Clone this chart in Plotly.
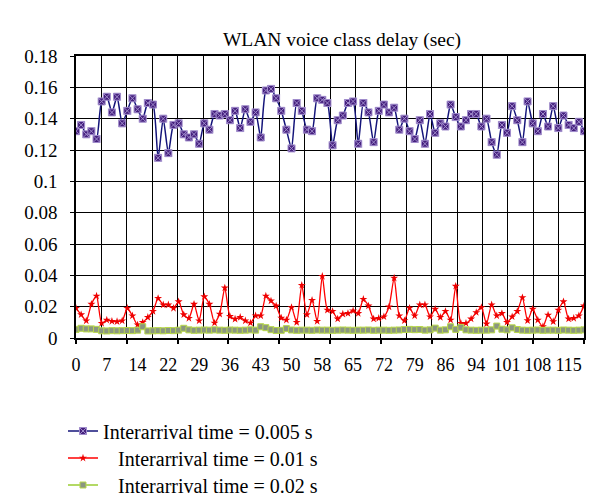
import plotly.graph_objects as go

# ---------------- data ----------------
n_points = 100
category_index = list(range(n_points))

# x tick labels shown every 6th category (category value = index * 1.2, rounded)
label_index = [0, 6, 12, 18, 24, 30, 36, 42, 48, 54, 60, 66, 72, 78, 84, 90, 96]
label_text = ["0", "7", "14", "22", "29", "36", "43", "50", "58", "65", "72",
              "79", "86", "94", "101", "108", "115"]

delay_0005 = [
    0.132, 0.136, 0.130, 0.132, 0.127, 0.151, 0.154, 0.144, 0.154, 0.137,
    0.145, 0.153, 0.146, 0.140, 0.150, 0.149, 0.115, 0.140, 0.118, 0.136,
    0.137, 0.130, 0.128, 0.130, 0.124, 0.137, 0.133, 0.143, 0.142, 0.143,
    0.139, 0.145, 0.134, 0.146, 0.138, 0.144, 0.128, 0.158, 0.159, 0.153,
    0.145, 0.133, 0.121, 0.150, 0.145, 0.133, 0.132, 0.153, 0.152, 0.150,
    0.123, 0.139, 0.142, 0.150, 0.151, 0.124, 0.150, 0.144, 0.125, 0.145,
    0.149, 0.144, 0.147, 0.133, 0.140, 0.132, 0.127, 0.139, 0.124, 0.143,
    0.131, 0.137, 0.135, 0.149, 0.141, 0.135, 0.139, 0.143, 0.143, 0.135,
    0.140, 0.125, 0.117, 0.136, 0.131, 0.148, 0.139, 0.125, 0.151, 0.137,
    0.132, 0.143, 0.135, 0.148, 0.134, 0.142, 0.136, 0.134, 0.138, 0.132,
]

delay_001 = [
    0.0190, 0.0149, 0.0110, 0.0216, 0.0268, 0.0094, 0.0115, 0.0107, 0.0105, 0.0110,
    0.0190, 0.0142, 0.0084, 0.0100, 0.0132, 0.0170, 0.0253, 0.0212, 0.0212, 0.0190,
    0.0232, 0.0149, 0.0126, 0.0216, 0.0110, 0.0264, 0.0216, 0.0096, 0.0153, 0.0320,
    0.0138, 0.0121, 0.0132, 0.0110, 0.0096, 0.0142, 0.0142, 0.0268, 0.0237, 0.0205,
    0.0128, 0.0115, 0.0195, 0.0100, 0.0337, 0.0149, 0.0241, 0.0107, 0.0394, 0.0178,
    0.0170, 0.0122, 0.0153, 0.0157, 0.0174, 0.0157, 0.0247, 0.0205, 0.0122, 0.0126,
    0.0136, 0.0199, 0.0383, 0.0142, 0.0111, 0.0191, 0.0142, 0.0212, 0.0212, 0.0136,
    0.0184, 0.0132, 0.0170, 0.0115, 0.0331, 0.0094, 0.0094, 0.0122, 0.0163, 0.0195,
    0.0090, 0.0212, 0.0142, 0.0157, 0.0101, 0.0136, 0.0170, 0.0258, 0.0111, 0.0184,
    0.0115, 0.0073, 0.0147, 0.0105, 0.0178, 0.0232, 0.0122, 0.0126, 0.0142, 0.0205,
]

delay_002 = [
    0.0055, 0.0062, 0.0058, 0.0058, 0.0055, 0.0046, 0.0045, 0.0047, 0.0046, 0.0047,
    0.0048, 0.0047, 0.0050, 0.0072, 0.0045, 0.0046, 0.0047, 0.0046, 0.0048, 0.0047,
    0.0050, 0.0062, 0.0052, 0.0049, 0.0050, 0.0051, 0.0050, 0.0052, 0.0050, 0.0049,
    0.0051, 0.0050, 0.0049, 0.0050, 0.0052, 0.0050, 0.0072, 0.0066, 0.0053, 0.0048,
    0.0049, 0.0060, 0.0051, 0.0049, 0.0050, 0.0050, 0.0049, 0.0051, 0.0050, 0.0050,
    0.0049, 0.0050, 0.0051, 0.0050, 0.0049, 0.0050, 0.0050, 0.0051, 0.0049, 0.0050,
    0.0050, 0.0049, 0.0050, 0.0051, 0.0054, 0.0055, 0.0053, 0.0054, 0.0050, 0.0052,
    0.0063, 0.0050, 0.0052, 0.0072, 0.0055, 0.0068, 0.0052, 0.0050, 0.0049, 0.0050,
    0.0050, 0.0052, 0.0076, 0.0056, 0.0052, 0.0065, 0.0054, 0.0050, 0.0049, 0.0050,
    0.0051, 0.0049, 0.0050, 0.0050, 0.0049, 0.0051, 0.0050, 0.0049, 0.0050, 0.0052,
]

series_names = [
    "Interarrival time = 0.005 s",
    "\u00a0\u00a0\u00a0Interarrival time = 0.01 s",
    "\u00a0\u00a0\u00a0Interarrival time = 0.02 s",
]

# ---------------- figure ----------------
FONT = "Liberation Serif, Times New Roman, serif"
x_max = n_points - 1
grid_step = x_max / 20
tick_step = x_max / 10

PLOT_TOP, PLOT_BOTTOM = 48, 330
PLOT_H = PLOT_BOTTOM - PLOT_TOP


def paper_y(px):
    return (PLOT_BOTTOM - px) / PLOT_H


fig = go.Figure()

fig.add_trace(go.Scatter(
    x=category_index, y=delay_0005, name=series_names[0], mode="lines+markers",
    line=dict(color="#14147a", width=1.5, shape="spline", smoothing=0.6),
    marker=dict(symbol="square-x", size=7, color="#46217e",
                line=dict(color="#a08ccc", width=1)),
    legend="legend",
))
fig.add_trace(go.Scatter(
    x=category_index, y=delay_001, name=series_names[1], mode="lines+markers",
    line=dict(color="#ff0000", width=1.3, shape="spline", smoothing=0.6),
    marker=dict(symbol="star", size=6, color="#ee0000",
                line=dict(color="#ee0000", width=0)),
    legend="legend2",
))
fig.add_trace(go.Scatter(
    x=category_index, y=delay_002, name=series_names[2], mode="lines+markers",
    line=dict(color="#9acd32", width=1.5, shape="spline", smoothing=0.6),
    marker=dict(symbol="square", size=6, color="#8a9680",
                line=dict(color="#b8d84a", width=1)),
    legend="legend3",
))
# helper trace so the tick-mark axis (x2) gets drawn
fig.add_trace(go.Scatter(x=[None], y=[None], xaxis="x2", showlegend=False,
                         hoverinfo="skip"))

legend_common = dict(orientation="v", x=-0.0256, xanchor="left", yanchor="middle",
                     font=dict(family=FONT, size=20, color="black"),
                     bgcolor="rgba(0,0,0,0)", borderwidth=0)

fig.update_layout(
    width=600, height=502,
    margin=dict(l=68, r=24, t=PLOT_TOP, b=502 - PLOT_BOTTOM, autoexpand=False),
    paper_bgcolor="white", plot_bgcolor="white",
    font=dict(family=FONT, size=19, color="black"),
    title=dict(text="WLAN voice class delay (sec)", x=334 / 600, xanchor="center",
               y=1 - 31 / 502, yanchor="middle",
               font=dict(family=FONT, size=19.5, color="black")),
    showlegend=True,
    legend=dict(legend_common, y=paper_y(423)),
    legend2=dict(legend_common, y=paper_y(450)),
    legend3=dict(legend_common, y=paper_y(477)),
    xaxis=dict(
        range=[0, x_max], tickmode="array", tickvals=label_index, ticktext=label_text,
        ticks="", showgrid=False, zeroline=False,
        showline=True, linecolor="black", linewidth=1.5, mirror=True,
        ticklabelstandoff=10, tickfont=dict(family=FONT, size=18, color="black"),
        minor=dict(tickmode="linear", tick0=0, dtick=grid_step, showgrid=True,
                   gridcolor="black", gridwidth=1, ticks=""),
    ),
    xaxis2=dict(
        overlaying="x", anchor="y", side="bottom", range=[0, x_max],
        tickmode="linear", tick0=0, dtick=tick_step, showticklabels=False,
        ticks="outside", ticklen=5, tickcolor="black", tickwidth=1.5,
        showgrid=False, zeroline=False, showline=False,
    ),
    yaxis=dict(
        range=[0, 0.18], tick0=0, dtick=0.02, showgrid=True, gridcolor="black",
        gridwidth=1, zeroline=False, showline=True, linecolor="black", linewidth=1.5,
        mirror=True, ticks="outside", ticklen=4, tickcolor="black",
        ticklabelstandoff=9, tickfont=dict(family=FONT, size=19, color="black"),
    ),
)

fig.write_html("out.html")
